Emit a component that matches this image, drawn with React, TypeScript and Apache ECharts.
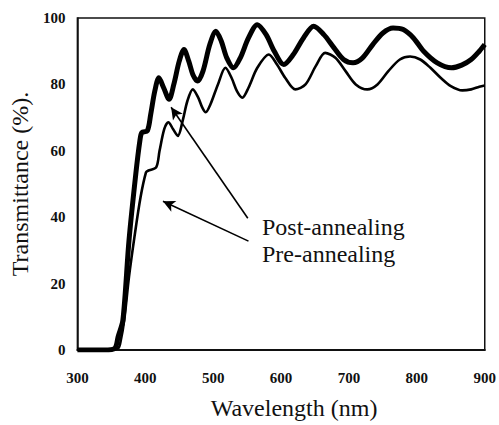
import React, { useEffect, useRef } from "react";
import * as echarts from "echarts";

const xTicks = [300, 400, 500, 600, 700, 800, 900];
const yTicks = [0, 20, 40, 60, 80, 100];

// Post-annealing (thick line): [wavelength nm, transmittance %]
const postAnnealing: [number, number][] = [
  [300, 0], [340, 0], [355, 0.5], [360, 4], [367, 9], [376, 33], [386, 53], [392, 63],
  [395, 65.5], [403, 66], [408, 71], [414, 78], [420, 82], [427, 79], [435, 75.5],
  [442, 80], [450, 87], [457, 90.5], [464, 87], [470, 83], [477, 81], [485, 84],
  [495, 92], [504, 96], [512, 93], [520, 88], [530, 85], [540, 88], [552, 94],
  [565, 98], [578, 95], [590, 90], [604, 86], [618, 89], [633, 94], [648, 97.5],
  [663, 95], [678, 91], [692, 87.5], [706, 86.5], [720, 88], [735, 92], [750, 95.5],
  [765, 97], [780, 96.5], [795, 94], [810, 90], [830, 86.5], [851, 85], [866, 85.8],
  [880, 87.5], [892, 90], [900, 92],
];

// Pre-annealing (thin line)
const preAnnealing: [number, number][] = [
  [300, 0], [345, 0], [360, 0.5], [364, 3], [369, 9], [376, 22], [384, 34], [393, 46],
  [401, 53.5], [404, 54], [416, 55], [421, 60], [428, 66.6], [434, 68.6], [441, 66.5],
  [448, 64.5], [455, 69], [462, 75], [470, 78.5], [478, 76], [484, 73], [489, 71.6],
  [496, 74], [507, 80], [518, 85], [527, 82], [535, 78], [543, 76], [552, 79],
  [565, 85], [582, 89], [594, 86], [606, 82], [621, 78.5], [636, 80], [651, 85.5],
  [665, 89.5], [680, 88], [695, 84], [710, 80], [727, 78.5], [742, 80], [758, 84],
  [775, 87.5], [790, 88.4], [805, 87.5], [820, 85], [835, 82], [850, 79.5], [867, 78.2],
  [880, 78.5], [892, 79.3], [900, 79.7],
];

// Annotation arrows in data coordinates: [tail, head]
const postArrow: [number, number][] = [[551, 39.7], [438, 73.1]];
const preArrow: [number, number][] = [[552, 32.8], [426, 44.8]];

const labelPost = "Post-annealing";
const labelPre = "Pre-annealing";

const serif = "'Liberation Serif', 'Times New Roman', serif";

export default function App() {
  const ref = useRef<HTMLDivElement>(null);
  useEffect(() => {
    if (!ref.current) return;
    const chart = echarts.init(ref.current, undefined, { renderer: "svg" });
    const arrowStyle = { color: "#000", width: 1.6, type: "solid" as const };
    chart.setOption({
      animation: false,
      backgroundColor: "#fff",
      grid: {
        left: 75,
        right: 14,
        top: 18,
        bottom: 72,
        show: true,
        borderColor: "#111",
        borderWidth: 1.5,
      },
      xAxis: {
        type: "value",
        min: 300,
        max: 900,
        interval: 100,
        axisLine: { show: true, lineStyle: { color: "#111", width: 2 } },
        axisTick: { show: false },
        splitLine: { show: false },
        axisLabel: {
          margin: 20,
          color: "#111",
          fontFamily: serif,
          fontWeight: "bold",
          fontSize: 15,
          customValues: xTicks,
        },
        name: "Wavelength (nm)",
        nameLocation: "middle",
        nameGap: 46,
        nameTextStyle: {
          fontFamily: serif,
          fontSize: 24,
          color: "#111",
          padding: [0, 0, 0, 26],
        },
      },
      yAxis: {
        type: "value",
        min: 0,
        max: 100,
        interval: 20,
        axisLine: { show: true, lineStyle: { color: "#111", width: 1.5 } },
        axisTick: { show: false },
        splitLine: { show: false },
        axisLabel: {
          margin: 12,
          color: "#111",
          fontFamily: serif,
          fontWeight: "bold",
          fontSize: 15,
          customValues: yTicks,
        },
        name: "Transmittance (%).",
        nameLocation: "middle",
        nameGap: 38,
        nameTextStyle: { fontFamily: serif, fontSize: 24, color: "#111" },
      },
      series: [
        {
          name: "Post-annealing",
          type: "line",
          data: postAnnealing,
          showSymbol: false,
          smooth: 0.3,
          lineStyle: { color: "#000", width: 5 },
          z: 3,
          markLine: {
            silent: true,
            symbol: ["none", "arrow"],
            symbolSize: [9, 12],
            label: { show: false },
            lineStyle: arrowStyle,
            data: [
              [
                { coord: postArrow[0] },
                { coord: postArrow[1] },
              ],
              [
                { coord: preArrow[0] },
                { coord: preArrow[1] },
              ],
            ],
          },
        },
        {
          name: "Pre-annealing",
          type: "line",
          data: preAnnealing,
          showSymbol: false,
          smooth: 0.3,
          lineStyle: { color: "#000", width: 2.6 },
          z: 2,
        },
      ],
      graphic: [
        {
          type: "text",
          left: 262,
          top: 215,
          style: { text: labelPost, fontFamily: serif, fontSize: 24, fill: "#111" },
        },
        {
          type: "text",
          left: 262,
          top: 242,
          style: { text: labelPre, fontFamily: serif, fontSize: 24, fill: "#111" },
        },
      ],
    });
    return () => chart.dispose();
  }, []);
  return (
    <div
      ref={ref}
      style={{ position: "fixed", left: 0, top: 0, width: 499, height: 425 }}
    />
  );
}
